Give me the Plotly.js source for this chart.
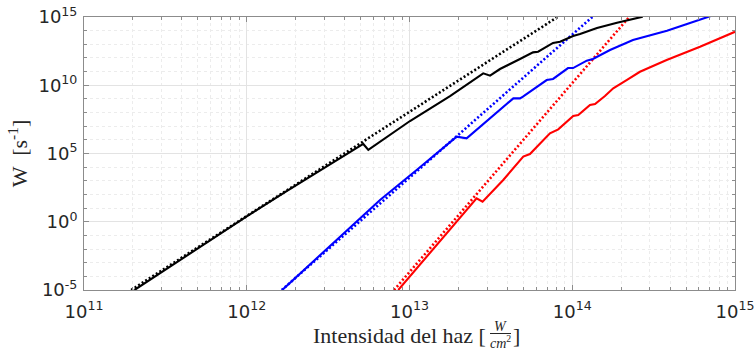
<!DOCTYPE html>
<html>
<head>
<meta charset="utf-8">
<script src="https://cdn.plot.ly/plotly-3.0.1.min.js"></script>
<style>html,body{margin:0;padding:0;background:#fff;}#chart{width:756px;height:351px;}</style>
</head>
<body>
<div id="chart"></div>
<script>
// Values, stored as log10 exponents
const blackLogI = [11.31, 12.0, 12.245, 12.45, 12.696, 12.716, 12.747, 13.003, 13.249, 13.453, 13.495, 13.556, 13.679, 13.759, 13.79, 13.882, 13.925, 14.005, 14.048, 14.152, 14.275, 14.433];
const blackLogW = [-5, 0.40, 2.25, 3.75, 5.55, 5.70, 5.26, 7.38, 9.21, 10.875, 10.70, 11.19, 11.92, 12.41, 12.46, 13.10, 13.19, 13.61, 13.75, 14.19, 14.58, 15.02];
const blueLogI = [12.218, 12.819, 13.044, 13.29, 13.351, 13.556, 13.638, 13.679, 13.697, 13.843, 13.882, 13.974, 14.005, 14.089, 14.127, 14.232, 14.373, 14.582, 14.851];
const blueLogW = [-5, 1.593, 3.79, 6.23, 6.11, 8.19, 9.04, 9.04, 9.16, 10.38, 10.46, 11.26, 11.26, 11.80, 11.92, 12.58, 13.32, 14.0, 15.07];
const redLogI = [12.931, 13.412, 13.449, 13.576, 13.699, 13.740, 13.863, 13.914, 14.006, 14.037, 14.109, 14.140, 14.201, 14.252, 14.334, 14.416, 14.580, 14.785, 15.0];
const redLogW = [-5, 1.72, 1.47, 3.06, 4.77, 4.96, 6.48, 6.77, 7.75, 7.82, 8.55, 8.63, 9.21, 9.78, 10.38, 10.99, 11.85, 12.82, 13.92];
// Perturbative power laws (dotted), end points
const blackPertLogI = [11.29, 13.91];
const blackPertLogW = [-5, 15];
const bluePertLogI = [12.215, 14.13];
const bluePertLogW = [-5, 15.07];
const redPertLogI = [12.905, 14.355];
const redPertLogW = [-5, 15.07];

const xTickVals = [1e11, 1e12, 1e13, 1e14, 1e15];
const xTickText = ['10<sup>11</sup>', '10<sup>12</sup>', '10<sup>13</sup>', '10<sup>14</sup>', '10<sup>15</sup>'];
const yTickVals = [1e-5, 1e0, 1e5, 1e10, 1e15];
const yTickText = ['10<sup>-5</sup>', '10<sup>0</sup>', '10<sup>5</sup>', '10<sup>10</sup>', '10<sup>15</sup>'];

const p10 = a => a.map(v => Math.pow(10, v));

function line(lx, ly, color, dotted) {
  return {
    x: p10(lx), y: p10(ly), type: 'scatter', mode: 'lines', hoverinfo: 'skip',
    line: dotted ? {color: color, width: 2.6, dash: '2px,2.2px'} : {color: color, width: 2.1}
  };
}

const data = [
  line(blackPertLogI, blackPertLogW, '#000000', true),
  line(bluePertLogI, bluePertLogW, '#0000ff', true),
  line(redPertLogI, redPertLogW, '#ff0000', true),
  line(blackLogI, blackLogW, '#000000', false),
  line(blueLogI, blueLogW, '#0000ff', false),
  line(redLogI, redLogW, '#ff0000', false)
];

const axisCommon = {
  showline: true, linecolor: '#8c8c8c', linewidth: 1, mirror: 'allticks',
  ticks: 'inside', ticklen: 5, tickcolor: '#8c8c8c', tickwidth: 1,
  showgrid: true, gridcolor: '#e3e3e3', gridwidth: 1, zeroline: false,
  tickfont: {family: 'DejaVu Sans', size: 18, color: '#262626'},
  tickmode: 'array'
};

const layout = {
  width: 756, height: 351,
  margin: {l: 84, r: 21, t: 17, b: 61},
  paper_bgcolor: '#ffffff', plot_bgcolor: '#ffffff',
  showlegend: false,
  xaxis: Object.assign({}, axisCommon, {
    type: 'log', range: [11, 15], tickvals: xTickVals, ticktext: xTickText, ticklabelstandoff: 5,
    minor: {dtick: 'D1', ticks: 'inside', ticklen: 3, tickcolor: '#8c8c8c', showgrid: true, gridcolor: '#ececec', griddash: 'dot'}
  }),
  yaxis: Object.assign({}, axisCommon, {
    type: 'log', range: [-5, 15], tickvals: yTickVals, ticktext: yTickText, ticklabelstandoff: 2,
    minor: {tickmode: 'linear', tick0: 0, dtick: 1, ticks: 'inside', ticklen: 3, tickcolor: '#8c8c8c', showgrid: true, gridcolor: '#ececec', griddash: 'dot'},
    title: {text: 'W  [s<sup>-1</sup>]', font: {family: 'Liberation Serif', size: 22, color: '#262626'}, standoff: 4}
  }),
  annotations: [
    {xref: 'paper', yref: 'paper', x: (488 - 84) / 651, y: (290 - 335) / 273, xanchor: 'right', yanchor: 'middle',
     text: 'Intensidad del haz [', showarrow: false, font: {family: 'Liberation Serif', size: 22, color: '#262626'}},
    {xref: 'paper', yref: 'paper', x: (500 - 84) / 651, y: (290 - 326) / 273, xanchor: 'center', yanchor: 'middle',
     text: '<i>W</i>', showarrow: false, font: {family: 'Liberation Serif', size: 14, color: '#262626'}},
    {xref: 'paper', yref: 'paper', x: (500 - 84) / 651, y: (290 - 342) / 273, xanchor: 'center', yanchor: 'middle',
     text: '<i>cm</i><sup>2</sup>', showarrow: false, font: {family: 'Liberation Serif', size: 14, color: '#262626'}},
    {xref: 'paper', yref: 'paper', x: (511 - 84) / 651, y: (290 - 335) / 273, xanchor: 'left', yanchor: 'middle',
     text: ']', showarrow: false, font: {family: 'Liberation Serif', size: 22, color: '#262626'}}
  ],
  shapes: [
    {type: 'line', xref: 'paper', yref: 'paper', x0: (490 - 84) / 651, x1: (511 - 84) / 651,
     y0: (290 - 333.5) / 273, y1: (290 - 333.5) / 273, line: {color: '#262626', width: 1}}
  ]
};

Plotly.newPlot('chart', data, layout, {displayModeBar: false, staticPlot: true});
</script>
</body>
</html>
